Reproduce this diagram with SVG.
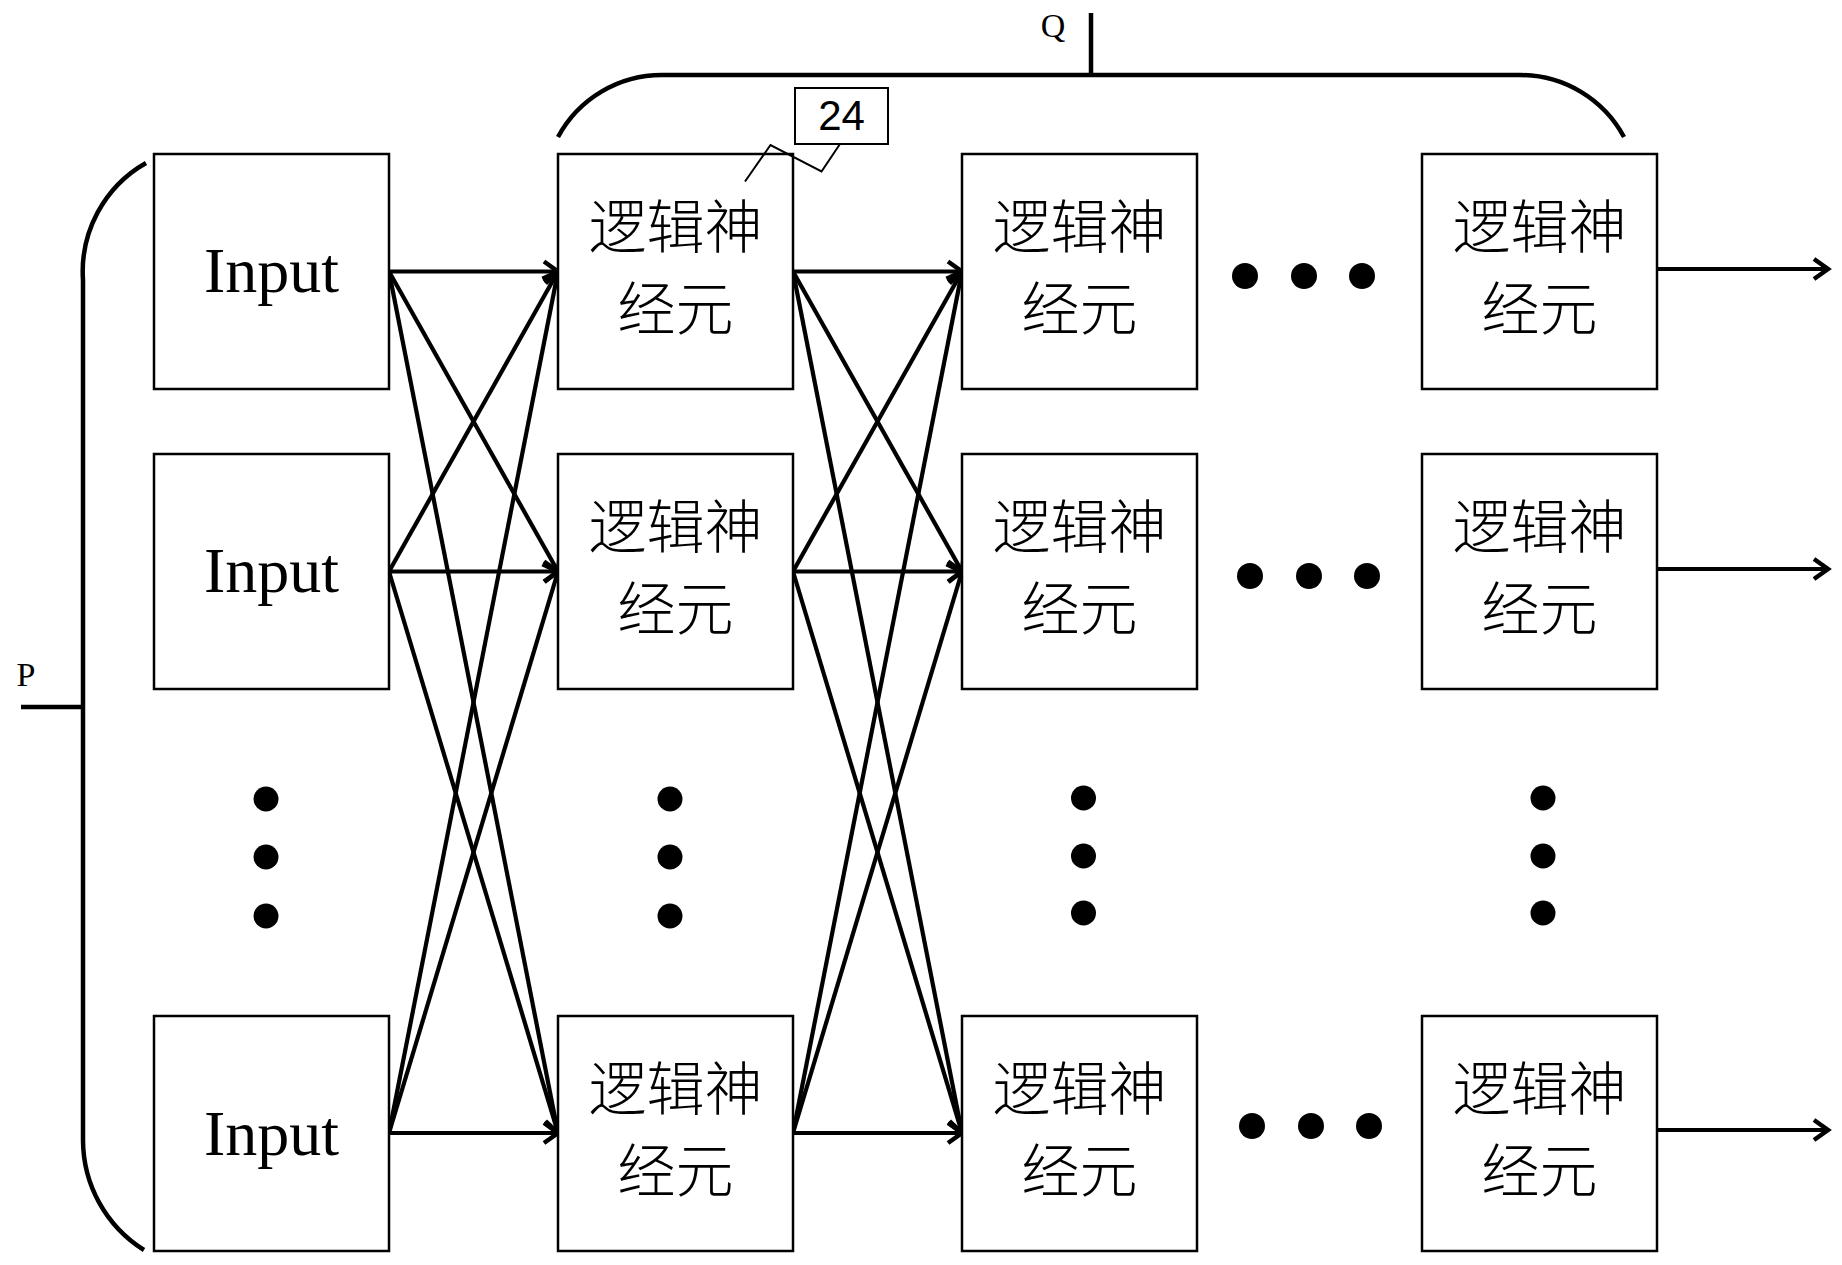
<svg xmlns="http://www.w3.org/2000/svg" width="1842" height="1265" viewBox="0 0 1842 1265">
<style>
.box{fill:#fff;stroke:#000;stroke-width:2.5}
.in{font-family:"Liberation Serif","Times New Roman",serif;font-size:64px;text-anchor:middle;fill:#000}
.cn{font-family:"Noto Sans CJK SC",sans-serif;font-size:58px;font-weight:300;text-anchor:middle;fill:#000}
.lbl{font-family:"Liberation Serif","Times New Roman",serif;font-size:34px;text-anchor:middle;fill:#000}
.num{font-family:"Liberation Sans",Arial,sans-serif;font-size:42px;text-anchor:middle;fill:#000}
.c{stroke:#000;stroke-width:4.2;fill:none;marker-end:url(#ah)}
.br{stroke:#000;stroke-width:4.5;fill:none}
.dot{fill:#000}
</style>
<defs>
<marker id="ah" markerUnits="userSpaceOnUse" markerWidth="40" markerHeight="40" viewBox="-20 -20 40 40" refX="0" refY="0" orient="auto">
<path d="M-14,-10 L0,0 L-14,10" fill="none" stroke="#000" stroke-width="4.5"/>
</marker>
</defs>
<rect width="1842" height="1265" fill="#fff"/>

<g id="brace-P">
<path class="br" d="M146,163 A125,125 0 0 0 83,280 L83,1140 A130,130 0 0 0 144,1250"/>
<line class="br" x1="21" y1="707" x2="83" y2="707"/>
<text class="lbl" x="26" y="686">P</text>
</g>
<g id="brace-Q">
<path class="br" d="M558,137 A118,118 0 0 1 663,75 L1520,75 A118,118 0 0 1 1624,137"/>
<line class="br" x1="1091" y1="13" x2="1091" y2="75"/>
<text class="lbl" x="1053" y="37">Q</text>
</g>

<g id="connectors">
<line class="c" x1="389" y1="271.5" x2="558" y2="271.5"/>
<line class="c" x1="389" y1="271.5" x2="558" y2="571.5"/>
<line class="c" x1="389" y1="271.5" x2="558" y2="1133"/>
<line class="c" x1="389" y1="571.5" x2="558" y2="271.5"/>
<line class="c" x1="389" y1="571.5" x2="558" y2="571.5"/>
<line class="c" x1="389" y1="571.5" x2="558" y2="1133"/>
<line class="c" x1="389" y1="1133" x2="558" y2="271.5"/>
<line class="c" x1="389" y1="1133" x2="558" y2="571.5"/>
<line class="c" x1="389" y1="1133" x2="558" y2="1133"/>
<line class="c" x1="793" y1="271.5" x2="962" y2="271.5"/>
<line class="c" x1="793" y1="271.5" x2="962" y2="571.5"/>
<line class="c" x1="793" y1="271.5" x2="962" y2="1133"/>
<line class="c" x1="793" y1="571.5" x2="962" y2="271.5"/>
<line class="c" x1="793" y1="571.5" x2="962" y2="571.5"/>
<line class="c" x1="793" y1="571.5" x2="962" y2="1133"/>
<line class="c" x1="793" y1="1133" x2="962" y2="271.5"/>
<line class="c" x1="793" y1="1133" x2="962" y2="571.5"/>
<line class="c" x1="793" y1="1133" x2="962" y2="1133"/>
<line class="c" x1="1657" y1="269" x2="1828" y2="269"/>
<line class="c" x1="1657" y1="569" x2="1828" y2="569"/>
<line class="c" x1="1657" y1="1130" x2="1828" y2="1130"/>
</g>

<g id="input-1"><rect class="box" x="154" y="154" width="235" height="235"/><text class="in" x="271.5" y="292">Input</text></g>
<g id="input-2"><rect class="box" x="154" y="454" width="235" height="235"/><text class="in" x="271.5" y="592">Input</text></g>
<g id="input-3"><rect class="box" x="154" y="1016" width="235" height="235"/><text class="in" x="271.5" y="1155">Input</text></g>

<g id="n-1-1"><rect class="box" x="558" y="154" width="235" height="235"/><text class="cn" x="675.5" y="248">逻辑神</text><text class="cn" x="675.5" y="330">经元</text></g>
<g id="n-1-2"><rect class="box" x="558" y="454" width="235" height="235"/><text class="cn" x="675.5" y="548">逻辑神</text><text class="cn" x="675.5" y="630">经元</text></g>
<g id="n-1-3"><rect class="box" x="558" y="1016" width="235" height="235"/><text class="cn" x="675.5" y="1110">逻辑神</text><text class="cn" x="675.5" y="1192">经元</text></g>

<g id="n-2-1"><rect class="box" x="962" y="154" width="235" height="235"/><text class="cn" x="1079.5" y="248">逻辑神</text><text class="cn" x="1079.5" y="330">经元</text></g>
<g id="n-2-2"><rect class="box" x="962" y="454" width="235" height="235"/><text class="cn" x="1079.5" y="548">逻辑神</text><text class="cn" x="1079.5" y="630">经元</text></g>
<g id="n-2-3"><rect class="box" x="962" y="1016" width="235" height="235"/><text class="cn" x="1079.5" y="1110">逻辑神</text><text class="cn" x="1079.5" y="1192">经元</text></g>

<g id="n-3-1"><rect class="box" x="1422" y="154" width="235" height="235"/><text class="cn" x="1539.5" y="248">逻辑神</text><text class="cn" x="1539.5" y="330">经元</text></g>
<g id="n-3-2"><rect class="box" x="1422" y="454" width="235" height="235"/><text class="cn" x="1539.5" y="548">逻辑神</text><text class="cn" x="1539.5" y="630">经元</text></g>
<g id="n-3-3"><rect class="box" x="1422" y="1016" width="235" height="235"/><text class="cn" x="1539.5" y="1110">逻辑神</text><text class="cn" x="1539.5" y="1192">经元</text></g>

<g id="label-24">
<rect x="795" y="88" width="93" height="56" fill="#fff" stroke="#000" stroke-width="2"/>
<text class="num" x="841.5" y="130">24</text>
<polyline fill="none" stroke="#000" stroke-width="2" points="840,144 821.5,171.5 770.5,145 745,181.5"/>
</g>

<g id="ellipses">
<circle class="dot" cx="266" cy="799" r="12.5"/><circle class="dot" cx="266" cy="857" r="12.5"/><circle class="dot" cx="266" cy="916" r="12.5"/>
<circle class="dot" cx="670" cy="799" r="12.5"/><circle class="dot" cx="670" cy="857" r="12.5"/><circle class="dot" cx="670" cy="916" r="12.5"/>
<circle class="dot" cx="1083.5" cy="798" r="12.5"/><circle class="dot" cx="1083.5" cy="856" r="12.5"/><circle class="dot" cx="1083.5" cy="913" r="12.5"/>
<circle class="dot" cx="1543" cy="798" r="12.5"/><circle class="dot" cx="1543" cy="856" r="12.5"/><circle class="dot" cx="1543" cy="913" r="12.5"/>
<circle class="dot" cx="1245" cy="276" r="13"/><circle class="dot" cx="1304" cy="276" r="13"/><circle class="dot" cx="1362" cy="276" r="13"/>
<circle class="dot" cx="1250" cy="576" r="13"/><circle class="dot" cx="1309" cy="576" r="13"/><circle class="dot" cx="1367" cy="576" r="13"/>
<circle class="dot" cx="1252" cy="1126" r="13"/><circle class="dot" cx="1311" cy="1126" r="13"/><circle class="dot" cx="1369" cy="1126" r="13"/>
</g>
</svg>
